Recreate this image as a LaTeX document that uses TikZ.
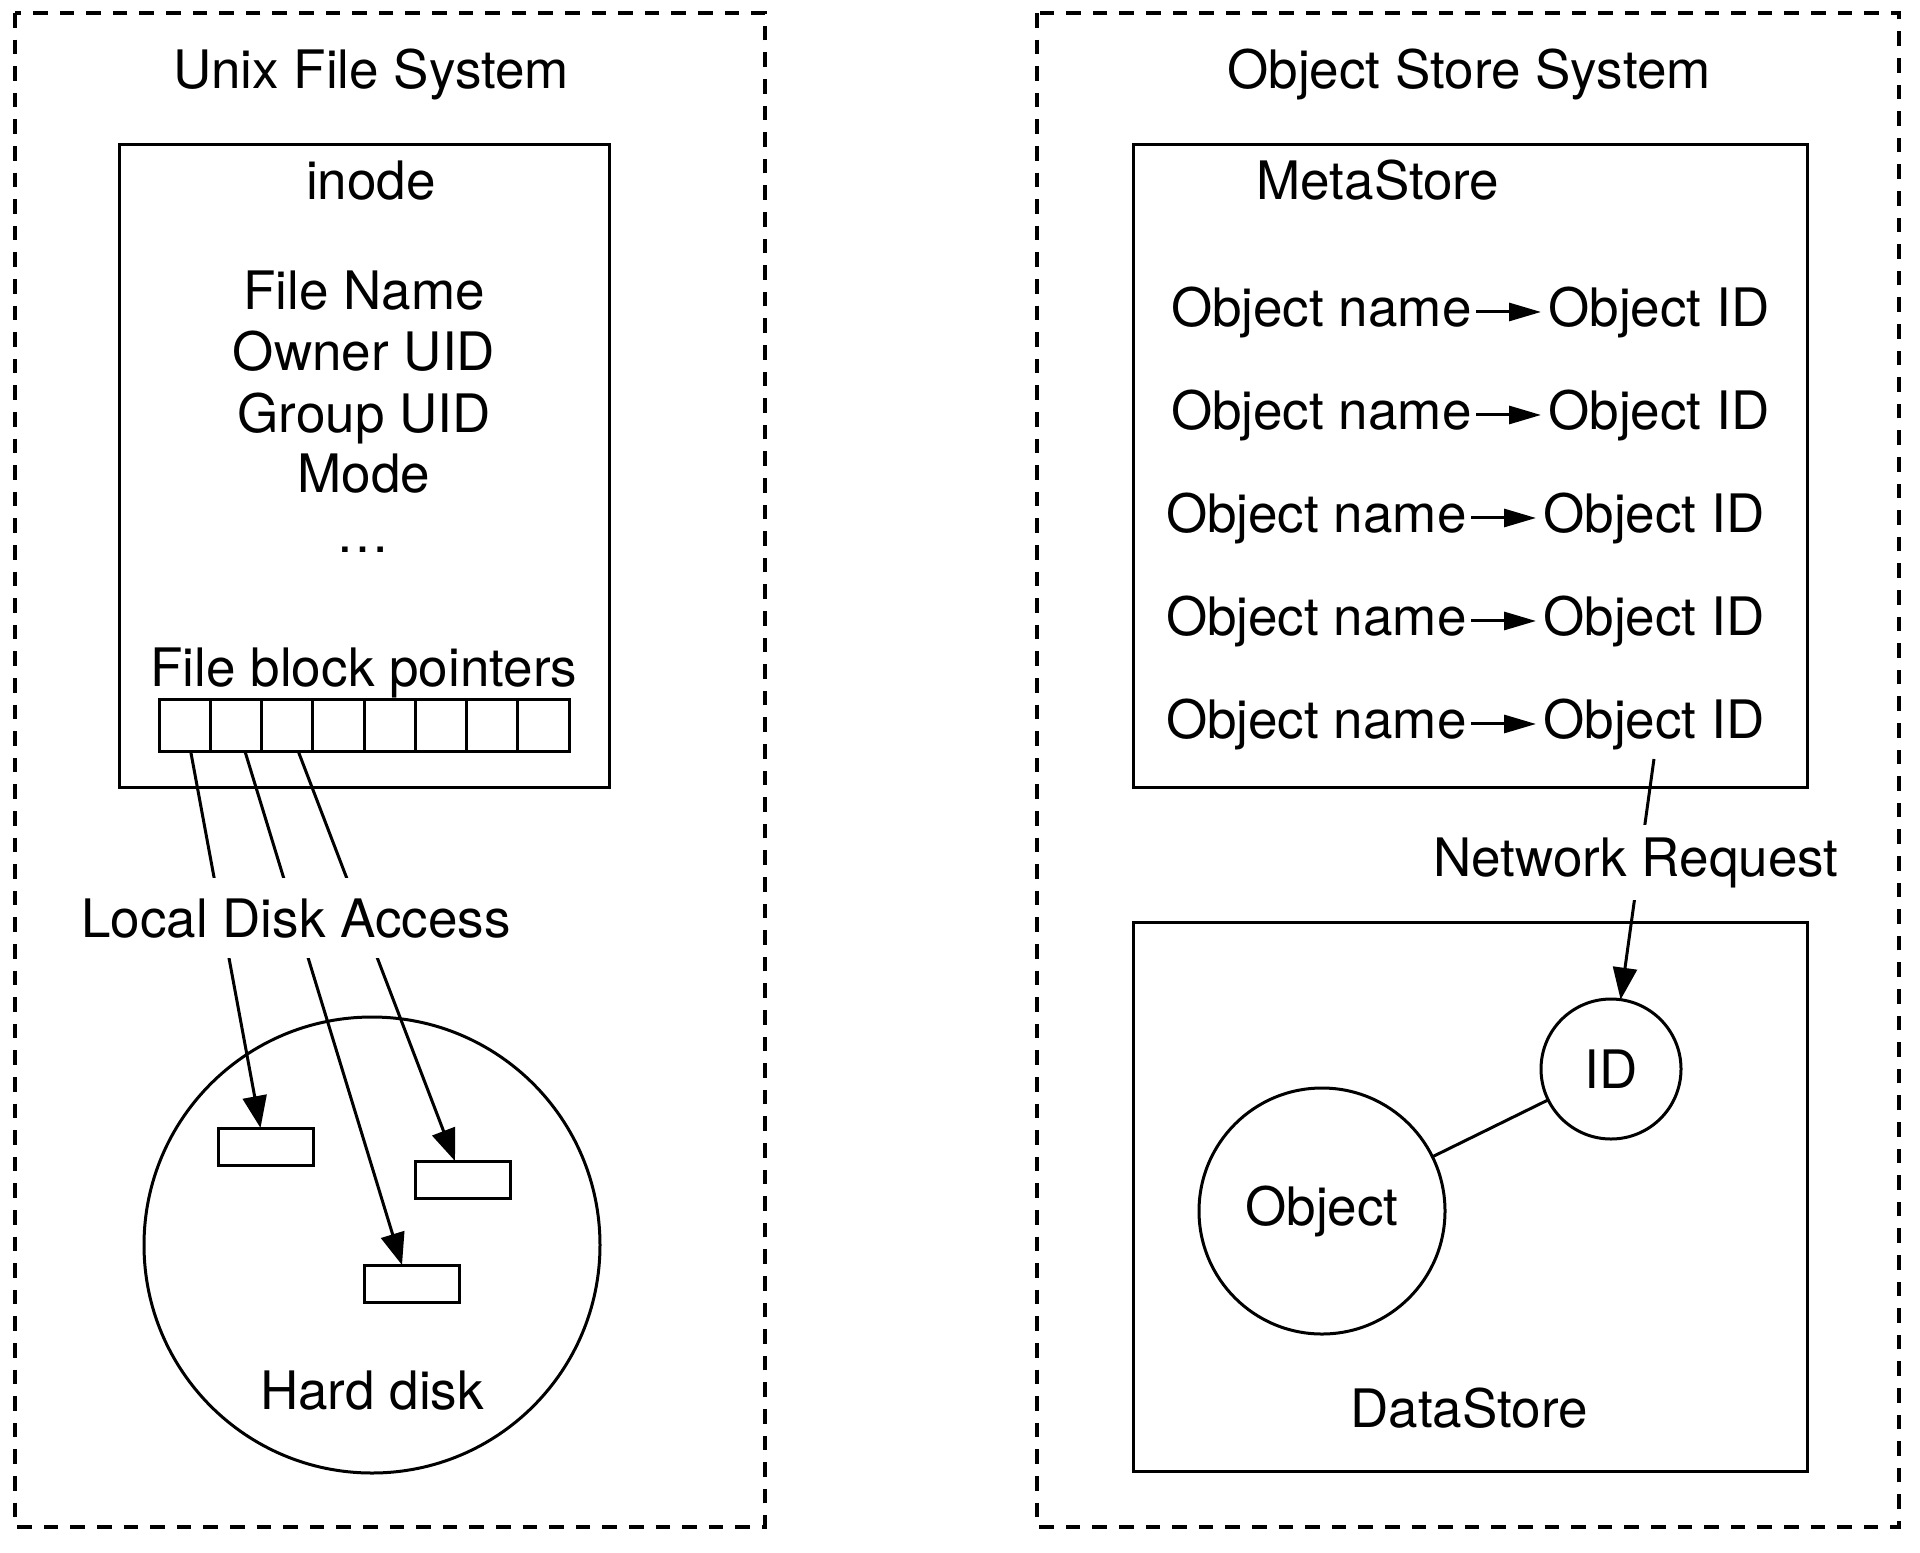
\documentclass[tikz,border=0pt]{standalone}
\usepackage{fontspec}
\setmainfont{TeX Gyre Heros}
\usetikzlibrary{arrows.meta}
\begin{document}
\begin{tikzpicture}[x=0.5pt,y=-0.5pt,line width=1.5pt,
  txt/.style={font=\fontsize{26.5}{32}\selectfont, inner sep=0pt},
  group/.style={draw, line width=1.6pt, dash pattern=on 7.3pt off 6pt},
  cell/.style={draw, outer sep=0pt, minimum width=25.625pt, minimum height=26pt, inner sep=0pt},
  blk/.style={draw, outer sep=0pt, minimum width=47.5pt, minimum height=18.5pt, inner sep=0pt},
  ring/.style={draw, circle, outer sep=0pt, inner sep=0pt},
  bigarrow/.style={-{Triangle[length=16pt,width=12pt]}},
  smallarrow/.style={-{Triangle[length=16pt,width=9pt]}},
  lbl/.style={txt, fill=white, inner xsep=2pt, inner ysep=10pt}
]
\useasboundingbox (0,0) rectangle (1920,1552);
% groups
\draw[group] (15,13) rectangle (765,1527);
\draw[group] (1037,13) rectangle (1899,1527);
\node[txt, anchor=base] (t1) at (371,89) {Unix File System};
\node[txt, anchor=base] (t2) at (1469,89) {Object Store System};
% inode
\draw (119,144) rectangle (609,787);
\node[txt, anchor=base] (inode) at (371,199) {inode};
\node[txt, anchor=base] (fn) at (364,309) {File Name};
\node[txt, anchor=base] (ou) at (364,370) {Owner UID};
\node[txt, anchor=base] (gu) at (364,432) {Group UID};
\node[txt, anchor=base] (mo) at (364,492) {Mode};
\node[txt, anchor=base] (dots) at (363,552) {…};
\node[txt, anchor=base] (fbp) at (364,686) {File block pointers};
\foreach \i in {1,...,8} {
  \node[cell] (c\i) at ({159+25.625+51.25*(\i-1)},725) {};
}
% hard disk
\node[ring, minimum size=228pt] (disk) at (372,1245) {};
\node[txt, anchor=base] (hd) at (372,1409) {Hard disk};
\node[blk] (r1) at (265.5,1146.5) {};
\node[blk] (r2) at (411.5,1283.5) {};
\node[blk] (r3) at (463,1179.5) {};
\draw[bigarrow] ([xshift=3pt]c1.south) -- ([xshift=-2.5pt]r1.north);
\draw[bigarrow] ([xshift=4.5pt]c2.south) -- ([xshift=-4.75pt]r2.north);
\draw[bigarrow] ([xshift=5.5pt]c3.south) -- ([xshift=-4pt]r3.north);
\node[lbl, anchor=base] (lda) at (296,937) {Local Disk Access};
% MetaStore
\draw (1133,144) rectangle (1807,787);
\node[txt, anchor=base] (ms) at (1378,199) {MetaStore};
\foreach \k/\y/\s in {1/326/0, 2/429/0, 3/532/-5, 4/635/-5, 5/738/-5} {
  \node[txt, anchor=base east] (n\k) at (1473+\s,\y) {Object name};
  \node[txt, anchor=base west] (i\k) at (1547+\s,\y) {Object ID};
  \draw[smallarrow] ([xshift=1.5pt]n\k.east) -- ([xshift=-3pt]i\k.west);
}
% DataStore
\draw (1133,922) rectangle (1807,1471);
\node[txt, anchor=base] (ds) at (1469,1427) {DataStore};
\node[ring, minimum size=70pt, txt] (idc) at (1611,1069) {ID};
\node[ring, minimum size=123pt, txt] (obj) at (1322,1211) {Object};
\draw (obj) -- (idc);
\draw[bigarrow] ([yshift=-4pt]i5.south) -- (idc);
\node[lbl, anchor=base, inner ysep=6pt] (nr) at (1636,876) {Network Request};
\end{tikzpicture}
\end{document}
